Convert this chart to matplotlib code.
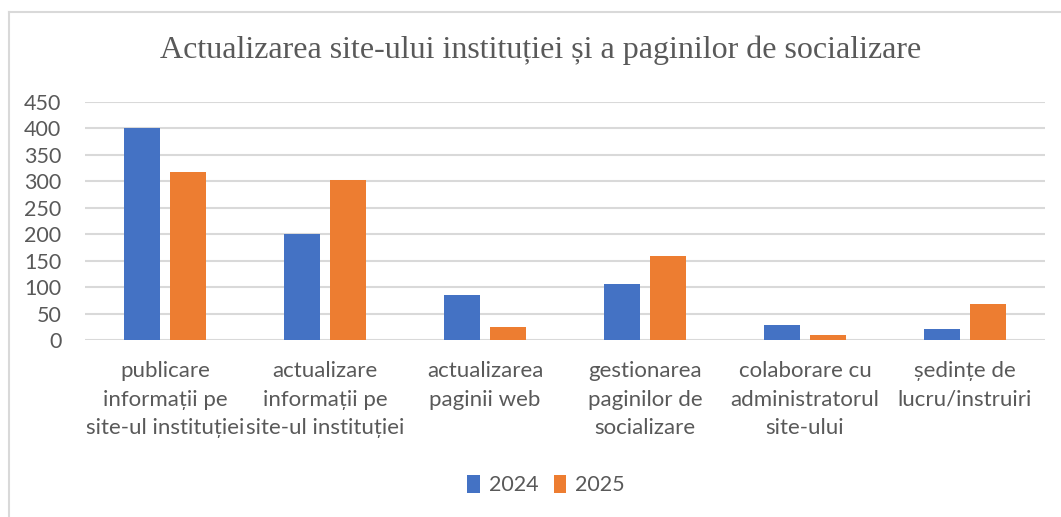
import numpy as np
import matplotlib.pyplot as plt
from matplotlib.lines import Line2D

categories = [
    "publicare\ninformații pe\nsite-ul instituției",
    "actualizare\ninformații pe\nsite-ul instituției",
    "actualizarea\npaginii web",
    "gestionarea\npaginilor de\nsocializare",
    "colaborare cu\nadministratorul\nsite-ului",
    "ședințe de\nlucru/instruiri",
]
values_2024 = [400, 200, 85, 105, 29, 21]
values_2025 = [318, 302, 25, 159, 10, 69]
series_names = ["2024", "2025"]

blue = "#4472c4"
orange = "#ed7d31"
text_color = "#595959"
font = ["Lato", "DejaVu Sans"]

fig = plt.figure(figsize=(10.61, 5.17), dpi=100)
ax = fig.add_axes([85 / 1061, 1 - 340 / 517, 960 / 1061, 238 / 517])

x = np.arange(len(categories))
w = 0.225
ax.bar(x - 0.142, values_2024, w, color=blue, label=series_names[0], zorder=3)
ax.bar(x + 0.142, values_2025, w, color=orange, label=series_names[1], zorder=3)

ax.set_xlim(-0.5, len(categories) - 0.5)
ax.set_ylim(0, 450)
ax.set_yticks(range(0, 451, 50))
ax.grid(axis="y", color="#d9d9d9", linewidth=1.5, zorder=0)
ax.set_axisbelow(True)
for s in ax.spines.values():
    s.set_visible(False)
ax.tick_params(length=0)
ax.tick_params(axis="y", pad=17)
ax.tick_params(axis="x", pad=15)

ax.set_xticks(x)
ax.set_xticklabels(categories, linespacing=1.55)
for lbl in ax.get_xticklabels():
    lbl.set_family(font)
    lbl.set_fontsize(16)
    lbl.set_color(text_color)
for lbl in ax.get_yticklabels():
    lbl.set_family(font)
    lbl.set_fontsize(15.5)
    lbl.set_color(text_color)

fig.text(541 / 1061, 1 - 50 / 517,
         "Actualizarea site-ului instituției și a paginilor de socializare",
         ha="center", va="center", family="Liberation Serif", fontsize=23,
         color=text_color)

handles, labels = ax.get_legend_handles_labels()
fig.legend(handles, labels, loc="center", bbox_to_anchor=(546 / 1061, 1 - 485 / 517),
           ncol=2, frameon=False, handlelength=0.6, handleheight=0.9,
           handletextpad=0.4, columnspacing=0.7,
           prop={"family": font, "size": 15.5}, labelcolor=text_color)

# chart area border (top and left visible)
fig.add_artist(Line2D([9 / 1061, 1], [1 - 12 / 517, 1 - 12 / 517],
                      color="#d9d9d9", linewidth=1.5, transform=fig.transFigure))
fig.add_artist(Line2D([9 / 1061, 9 / 1061], [0, 1 - 12 / 517],
                      color="#d9d9d9", linewidth=1.5, transform=fig.transFigure))

fig.savefig("out.png", dpi=100)
